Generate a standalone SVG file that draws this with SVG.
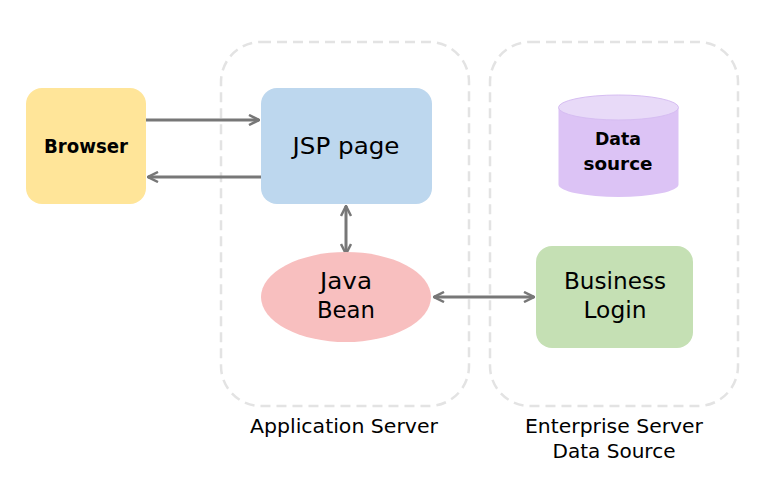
<svg xmlns="http://www.w3.org/2000/svg" width="775" height="489" viewBox="0 0 775 489">
<defs>
<style>
.t{font-family:"DejaVu Sans","Noto Sans",sans-serif;fill:#000;text-anchor:middle}
.lbl{font-size:23px}
.cap{font-size:19.5px}
.b{font-weight:bold}
.grp{fill:none;stroke:#e3e3e3;stroke-width:2.5;stroke-dasharray:10 6}
.c{fill:none;stroke:#777;stroke-width:3}
</style>
<marker id="ah" viewBox="0 0 12 12" refX="11" refY="6" markerWidth="12" markerHeight="12" markerUnits="userSpaceOnUse" orient="auto-start-reverse">
<path d="M1 1 L11 6 L1 11" fill="none" stroke="#777" stroke-width="2.5"/>
</marker>
</defs>
<rect width="775" height="489" fill="#fff"/>
<g id="app-server">
<rect class="grp" x="221" y="42" width="248" height="364" rx="40"/>
<text class="t cap" x="344" y="433" textLength="188" lengthAdjust="spacingAndGlyphs">Application Server</text>
</g>
<g id="enterprise-server">
<rect class="grp" x="490" y="42" width="248" height="364" rx="40"/>
<text class="t cap" x="614" y="433" textLength="178" lengthAdjust="spacingAndGlyphs">Enterprise Server</text>
<text class="t cap" x="614" y="458" textLength="123" lengthAdjust="spacingAndGlyphs">Data Source</text>
</g>
<g id="connectors">
<line class="c" x1="146" y1="120" x2="259" y2="120" marker-end="url(#ah)"/>
<line class="c" x1="261" y1="177" x2="148" y2="177" marker-end="url(#ah)"/>
<line class="c" x1="346" y1="206" x2="346" y2="254" marker-start="url(#ah)" marker-end="url(#ah)"/>
<line class="c" x1="434" y1="297" x2="534" y2="297" marker-start="url(#ah)" marker-end="url(#ah)"/>
</g>
<g id="browser">
<rect x="26" y="88" width="120" height="116" rx="16" fill="#FFE599"/>
<text class="t b" x="86" y="153" font-size="19.5" textLength="84" lengthAdjust="spacingAndGlyphs">Browser</text>
</g>
<g id="jsp-page">
<rect x="261" y="88" width="171" height="116" rx="16" fill="#BDD7EE"/>
<text class="t lbl" x="346" y="154" textLength="107" lengthAdjust="spacingAndGlyphs">JSP page</text>
</g>
<g id="java-bean">
<ellipse cx="346" cy="297" rx="85" ry="45" fill="#F8BFBF"/>
<text class="t lbl" x="346" y="289" textLength="52" lengthAdjust="spacingAndGlyphs">Java</text>
<text class="t lbl" x="346" y="318" textLength="58" lengthAdjust="spacingAndGlyphs">Bean</text>
</g>
<g id="business-login">
<rect x="536" y="246" width="157" height="102" rx="16" fill="#C5E0B4"/>
<text class="t lbl" x="615" y="289" textLength="102" lengthAdjust="spacingAndGlyphs">Business</text>
<text class="t lbl" x="615" y="318" textLength="63" lengthAdjust="spacingAndGlyphs">Login</text>
</g>
<g id="data-source">
<path d="M558.5 107.5 V184.5 A60 12.5 0 0 0 678.5 184.5 V107.5 Z" fill="#DCC3F5"/>
<ellipse cx="618.5" cy="107.5" rx="60" ry="12.5" fill="#E8DAF8" stroke="#D6BDF2" stroke-width="1"/>
<text class="t b" x="618" y="145" font-size="17.5" textLength="46" lengthAdjust="spacingAndGlyphs">Data</text>
<text class="t b" x="618" y="170" font-size="17.5" textLength="69" lengthAdjust="spacingAndGlyphs">source</text>
</g>
</svg>
